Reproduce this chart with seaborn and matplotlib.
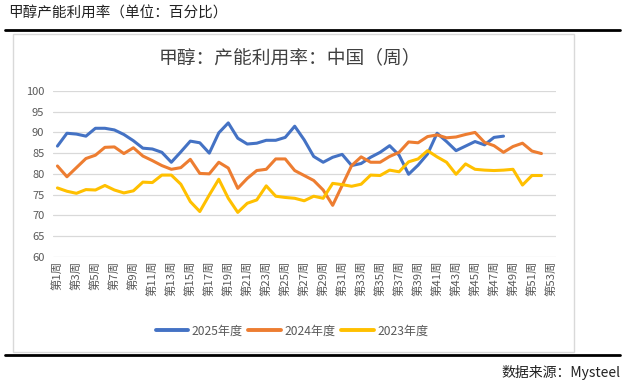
import pandas as pd
import matplotlib.pyplot as plt
import seaborn as sns
from matplotlib.lines import Line2D
from matplotlib.patches import Rectangle

# weekly utilisation rate (%)
y2025 = [86.7, 89.8, 89.6, 89.1, 91.0, 91.0, 90.6, 89.5, 88.0, 86.2,
         86.0, 85.2, 82.8, 85.3, 87.9, 87.5, 85.0, 89.9, 92.3, 88.6,
         87.2, 87.4, 88.1, 88.1, 88.8, 91.5, 88.2, 84.2, 82.8, 84.0,
         84.7, 82.0, 82.5, 84.0, 85.2, 86.8, 84.5, 79.9, 82.1, 84.8,
         89.8, 87.8, 85.6, 86.7, 87.8, 87.0, 88.8, 89.1]
y2024 = [81.9, 79.3, 81.5, 83.7, 84.5, 86.4, 86.5, 84.9, 86.3, 84.3,
         83.2, 82.0, 81.1, 81.5, 83.5, 80.1, 80.0, 82.8, 81.4, 76.5,
         78.9, 80.8, 81.1, 83.6, 83.6, 80.8, 79.6, 78.4, 76.1, 72.4,
         77.2, 82.0, 84.1, 82.8, 82.8, 84.2, 85.2, 87.7, 87.5, 89.0,
         89.4, 88.7, 88.9, 89.5, 90.0, 87.6, 86.8, 85.2, 86.6, 87.4,
         85.5, 84.9]
y2023 = [76.6, 75.8, 75.3, 76.2, 76.1, 77.2, 76.1, 75.4, 75.9, 78.0,
         77.9, 79.7, 79.7, 77.5, 73.3, 70.9, 74.9, 78.7, 74.1, 70.7,
         72.9, 73.7, 77.1, 74.6, 74.3, 74.1, 73.5, 74.6, 74.1, 77.7,
         77.4, 77.0, 77.5, 79.7, 79.6, 80.9, 80.5, 82.9, 83.6, 85.6,
         84.1, 82.8, 79.9, 82.4, 81.1, 80.9, 80.8, 80.9, 81.1, 77.3,
         79.6, 79.6]
series_names = ["2025年度", "2024年度", "2023年度"]
week_labels = [f"第{i}周" for i in range(1, 54)]

colors = ["#4472C4", "#ED7D31", "#FFC000"]

# long format for seaborn
frames = []
for name, vals in zip(series_names, [y2025, y2024, y2023]):
    frames.append(pd.DataFrame({"week": range(len(vals)), "rate": vals, "year": name}))
df = pd.concat(frames)

sns.set_theme(style="white")
plt.rcParams['font.family'] = ['Noto Sans CJK SC', 'DejaVu Sans']

fig = plt.figure(figsize=(6.25, 3.91), dpi=100)
ax = fig.add_axes([52.7 / 625, 1 - 256.7 / 391, 503 / 625, 165.7 / 391])

sns.lineplot(data=df, x="week", y="rate", hue="year", hue_order=series_names,
             palette=colors, linewidth=2.2, ax=ax, legend=False)

ax.set_xlim(-0.5, 52.5)
ax.set_ylim(60, 100)
ax.set_yticks(range(60, 101, 5))
for v in range(60, 101, 5):
    ax.axhline(v, color="#D9D9D9", linewidth=0.9, zorder=0)
ax.set_xticks(range(0, 53, 2))
ax.set_xticklabels(week_labels[::2], rotation=90, fontsize=8.2, color="#595959")
ax.tick_params(axis="y", labelsize=8, colors="#595959", length=0, pad=6)
ax.tick_params(axis="x", length=0, pad=3)
ax.set_xlabel("")
ax.set_ylabel("")
for s in ax.spines.values():
    s.set_visible(False)
ax.patch.set_alpha(0)

# legend
handles = [Line2D([0], [0], color=c, linewidth=2.8) for c in colors]
fig.legend(handles, series_names, loc="center", bbox_to_anchor=(292 / 625, 1 - 331 / 391),
           ncol=3, frameon=False, fontsize=8.7, handlelength=2.7, handletextpad=0.3,
           columnspacing=0.45, labelcolor="#595959")

# chart frame and header
fig.add_artist(Rectangle((13 / 625, 1 - 352 / 391), 561 / 625, 318 / 391,
                         transform=fig.transFigure, fill=False, edgecolor="#D9D9D9", linewidth=1))
fig.add_artist(Line2D([5 / 625, 620 / 625], [1 - 30 / 391] * 2, color="black", linewidth=2))
fig.add_artist(Line2D([5 / 625, 620 / 625], [1 - 355 / 391] * 2, color="black", linewidth=2))

fig.text(8 / 625, 1 - 14 / 391, "甲醇产能利用率（单位：百分比）", fontsize=10.5,
         ha="left", va="center", color="#222222")
fig.text(290 / 625, 1 - 59 / 391, "甲醇：产能利用率：中国（周）", fontsize=13.5,
         ha="center", va="center", color="#404040")
fig.text(620 / 625, 1 - 373 / 391, "数据来源：Mysteel", fontsize=10,
         ha="right", va="center", color="#222222")

fig.savefig("out.png", dpi=100)
